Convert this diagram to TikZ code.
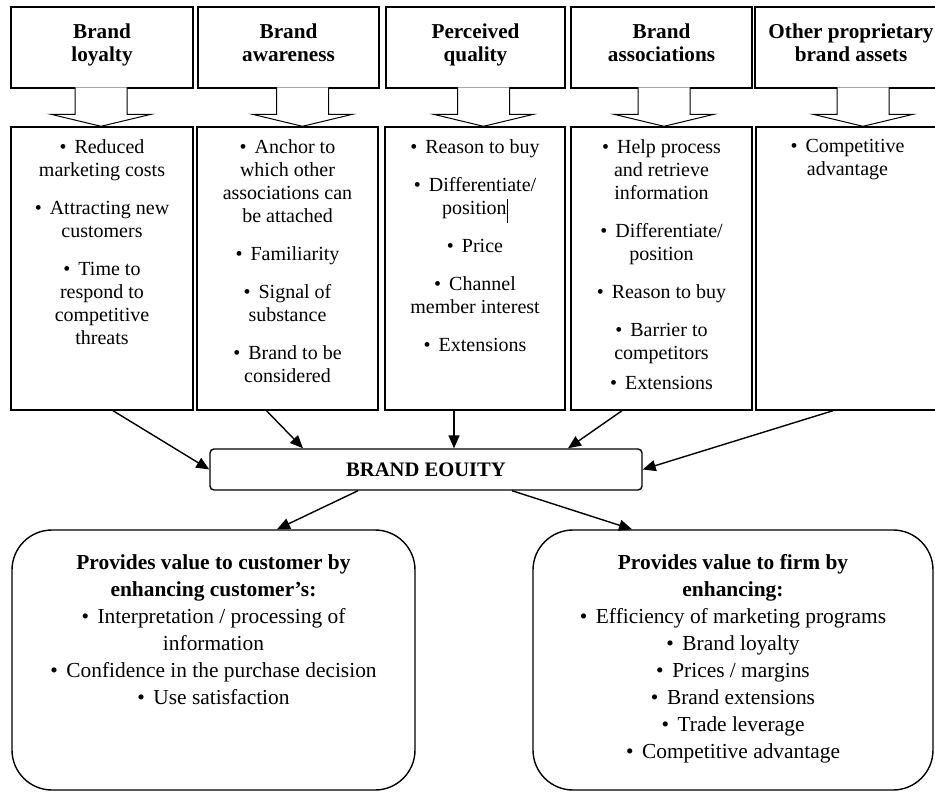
\documentclass[tikz,border=0pt]{standalone}
\usepackage{fontspec}
\setmainfont{Liberation Serif}
\usetikzlibrary{arrows.meta,positioning}
\newcommand{\bul}{\textbullet\hspace{0.4em}}
\newcommand{\tstrut}{\rule{0pt}{10.5pt}}
\newcommand{\bstrut}{\rule[-7.5pt]{0pt}{7.5pt}}

\begin{document}
\begin{tikzpicture}[x=0.5pt,y=-0.5pt,
  hdr/.style={draw,line width=0.7pt,minimum width=#1,minimum height=40.5pt,align=center,inner sep=0pt,font=\fontsize{10.6}{11.5}\selectfont\bfseries},
  lst/.style={draw,line width=0.7pt,minimum width=#1,minimum height=141.5pt,inner sep=0pt},
  lsttxt/.style={align=center,inner sep=0pt,font=\fontsize{10}{11.5}\selectfont},
  blk/.style={draw,line width=0.5pt,fill=white},
  lnk/.style={line width=0.7pt,-{Triangle[length=6.5pt,width=5.5pt]}},
  eq/.style={draw,line width=0.7pt,rounded corners=2pt,minimum width=216pt,minimum height=20.5pt,font=\fontsize{10.3}{12}\selectfont\bfseries},
  val/.style={draw,line width=0.7pt,rounded corners=20pt,minimum width=#1,minimum height=130pt},
  valtxt/.style={align=center,inner sep=0pt,font=\fontsize{10.7}{13.5}\selectfont}]

\useasboundingbox (0,0) rectangle (935,791);
\clip (0,0) rectangle (935,791);

\node[hdr=91pt] (h1) at (102,47.5) {\tstrut Brand\\loyalty\bstrut};
\node[hdr=90.5pt] (h2) at (288.5,47.5) {\tstrut Brand\\awareness\bstrut};
\node[hdr=89.5pt] (h3) at (475.5,47.5) {\tstrut Perceived\\quality\bstrut};
\node[hdr=90.5pt] (h4) at (661.5,47.5) {\tstrut Brand\\associations\bstrut};
\node[hdr=96pt] (h5) at (851,47.5) {\tstrut Other proprietary\\brand assets\bstrut};

\node[lst=91pt] (l1) at (102,268.5) {};
\node[lst=90.5pt] (l2) at (287.5,268.5) {};
\node[lst=90pt] (l3) at (475,268.5) {};
\node[lst=90.5pt] (l4) at (661.5,268.5) {};
\node[lst=95.5pt] (l5) at (851.5,268.5) {};

\foreach \n/\dx in %
{1/-0.5,2/7.5,3/4.25,4/1.25,5/5.75} {
   \coordinate (tip\n) at ([xshift=\dx pt]l\n.north);
   \draw[blk] (tip\n) ++(-26,-39) -- ++(0,27) -- ++(-24,0) -- (tip\n)
      -- ++(50,-12) -- ++(-24,0) -- ++(0,-27);
}

\node[lsttxt,below=6.5pt of l1.north] (t1) {\bul Reduced\\marketing costs\\[7.5pt]\bul Attracting new\\customers\\[7.5pt]\bul Time to\\respond to\\competitive\\threats};
\node[lsttxt,below=6.5pt of l2.north] (t2) {\bul Anchor to\\which other\\associations can\\be attached\\[7.5pt]\bul Familiarity\\[7.5pt]\bul Signal of\\substance\\[7.5pt]\bul Brand to be\\considered};
\node[lsttxt,below=6.5pt of l3.north] (t3) {\bul Reason to buy\\[7.5pt]\bul Differentiate/\\position\rule[-4pt]{0.6pt}{12pt}\\[7.5pt]\bul Price\\[7.5pt]\bul Channel\\member interest\\[7.5pt]\bul Extensions};
\node[lsttxt,below=6.5pt of l4.north] (t4) {\bul Help process\\and retrieve\\information\\[7.5pt]\bul Differentiate/\\position\\[7.5pt]\bul Reason to buy\\[7.5pt]\bul Barrier to\\competitors\\[3.5pt]\bul Extensions};
\node[lsttxt,below=6.5pt of l5.north,xshift=-2pt] (t5) {\bul Competitive\\advantage};

\node[eq] (equity) at (426,469.5) {BRAND EOUITY};

\draw[lnk] ([xshift=5.5pt]l1.south) -- (equity.west);
\draw[lnk] ([xshift=-10.5pt]l2.south) -- ([xshift=-61.5pt]equity.north);
\draw[lnk] ([xshift=-10.5pt]l3.south) -- ([xshift=14pt]equity.north);
\draw[lnk] ([xshift=-19.75pt]l4.south) -- ([xshift=71pt]equity.north);
\draw[lnk] ([xshift=-9.25pt]l5.south) -- (equity.east);

\node[val=201.5pt] (c1) at (213.5,660) {};
\node[val=200pt] (c2) at (733,660) {};

\draw[lnk] ([xshift=-34pt]equity.south) -- ([xshift=31.75pt]c1.north);
\draw[lnk] ([xshift=43pt]equity.south) -- ([xshift=-50.5pt]c2.north);

\node[valtxt,below=12.5pt of c1.north] (v1) {\textbf{Provides value to customer by}\\\textbf{enhancing customer’s:}\\\bul Interpretation / processing of\\information\\\bul Confidence in the purchase decision\\\bul Use satisfaction};
\node[valtxt,below=12.5pt of c2.north] (v2) {\textbf{Provides value to firm by}\\\textbf{enhancing:}\\\bul Efficiency of marketing programs\\\bul Brand loyalty\\\bul Prices / margins\\\bul Brand extensions\\\bul Trade leverage\\\bul Competitive advantage};
\end{tikzpicture}
\end{document}
